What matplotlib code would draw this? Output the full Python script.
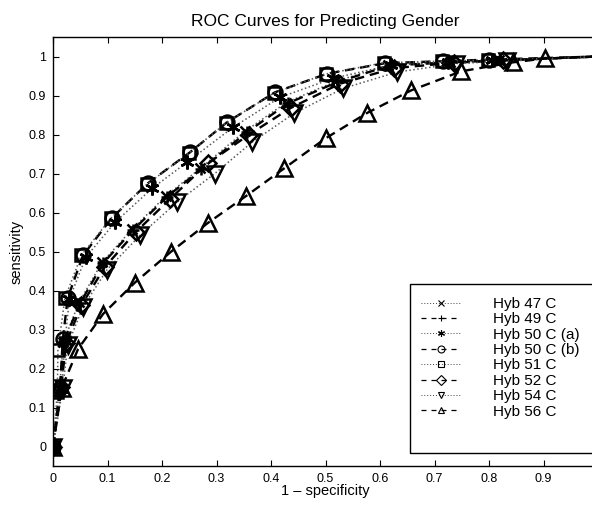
import matplotlib
matplotlib.use("Agg")
import matplotlib.pyplot as plt
from matplotlib.lines import Line2D
from matplotlib.patches import Rectangle

plt.rcParams['font.family'] = ['Liberation Sans', 'DejaVu Sans']

labels = ["Hyb 47 C", "Hyb 49 C", "Hyb 50 C (a)", "Hyb 50 C (b)",
          "Hyb 51 C", "Hyb 52 C", "Hyb 54 C", "Hyb 56 C"]
markers = ["x", "+", (6, 2, 0), "o", "s", "D", "v", "^"]
styles = ["dotted", "dashed", "dotted", "dashed", "dotted", "dashed", "dotted", "dashed"]

x47 = [0, 0.012, 0.019, 0.048, 0.09, 0.145, 0.207, 0.27, 0.352, 0.428, 0.518, 0.615, 0.728, 0.818]
y47 = [0, 0.15, 0.268, 0.37, 0.472, 0.557, 0.642, 0.713, 0.808, 0.882, 0.936, 0.978, 0.986, 0.99]
x49 = [0, 0.013, 0.02, 0.05, 0.092, 0.147, 0.209, 0.272, 0.356, 0.431, 0.521, 0.618, 0.73, 0.82]
y49 = [0, 0.153, 0.27, 0.368, 0.47, 0.555, 0.64, 0.711, 0.806, 0.88, 0.934, 0.977, 0.985, 0.99]
x50a = [0, 0.016, 0.022, 0.03, 0.06, 0.114, 0.182, 0.246, 0.33, 0.416, 0.514, 0.62, 0.725, 0.805]
y50a = [0, 0.148, 0.27, 0.378, 0.485, 0.575, 0.662, 0.729, 0.818, 0.895, 0.944, 0.978, 0.986, 0.99]
x50b = [0, 0.013, 0.018, 0.027, 0.055, 0.108, 0.174, 0.251, 0.319, 0.407, 0.503, 0.61, 0.716, 0.80]
y50b = [0, 0.15, 0.275, 0.381, 0.49, 0.586, 0.675, 0.754, 0.831, 0.908, 0.956, 0.983, 0.988, 0.992]
x51 = [0, 0.008, 0.009, 0.022, 0.052, 0.106, 0.172, 0.249, 0.318, 0.405, 0.50, 0.607, 0.714, 0.798]
y51 = [0, 0.14, 0.248, 0.381, 0.49, 0.585, 0.672, 0.752, 0.83, 0.906, 0.955, 0.984, 0.988, 0.991]
x52 = [0, 0.015, 0.024, 0.052, 0.095, 0.152, 0.215, 0.284, 0.36, 0.436, 0.526, 0.625, 0.735, 0.826]
y52 = [0, 0.152, 0.265, 0.362, 0.46, 0.55, 0.635, 0.726, 0.80, 0.868, 0.93, 0.97, 0.984, 0.99]
x54 = [0, 0.018, 0.027, 0.055, 0.099, 0.16, 0.228, 0.297, 0.365, 0.442, 0.532, 0.631, 0.74, 0.833]
y54 = [0, 0.15, 0.26, 0.358, 0.453, 0.542, 0.627, 0.70, 0.78, 0.854, 0.918, 0.96, 0.982, 0.988]
x56 = [0, 0.016, 0.046, 0.092, 0.15, 0.217, 0.284, 0.354, 0.424, 0.50, 0.576, 0.657, 0.749, 0.844, 0.903]
y56 = [0, 0.15, 0.25, 0.34, 0.42, 0.50, 0.573, 0.642, 0.713, 0.79, 0.855, 0.913, 0.962, 0.985, 0.995]

xs = [x47, x49, x50a, x50b, x51, x52, x54, x56]
ys = [y47, y49, y50a, y50b, y51, y52, y54, y56]

xticks = [0, 0.1, 0.2, 0.3, 0.4, 0.5, 0.6, 0.7, 0.8, 0.9]
xticklabels = ["0", "0.1", "0.2", "0.3", "0.4", "0.5", "0.6", "0.7", "0.8", "0.9"]
yticks = [0, 0.1, 0.2, 0.3, 0.4, 0.5, 0.6, 0.7, 0.8, 0.9, 1.0]
yticklabels = ["0", "0.1", "0.2", "0.3", "0.4", "0.5", "0.6", "0.7", "0.8", "0.9", "1"]

W, H = 592, 505
fig = plt.figure(figsize=(W / 100, H / 100), dpi=100)
ax = fig.add_axes([53 / W, 1 - 466 / H, 545 / W, 429 / H])

def ls_of(s):
    return (0, (1, 1.6)) if s == "dotted" else (0, (4, 2.5))

msizes = [7, 9, 10, 10, 9, 8, 11, 11]

for xv, yv, m, s, ms in zip(xs, ys, markers, styles, msizes):
    lx = list(xv) + [1.0]
    ly = list(yv) + [1.0]
    dotted = s == "dotted"
    ax.plot(lx, ly, linestyle=ls_of(s), color=("0.35" if dotted else "black"),
            lw=(1.1 if dotted else 1.7), zorder=2)
    ax.plot(xv, yv, linestyle="none", marker=m, markersize=ms,
            markerfacecolor="none", markeredgecolor="black", markeredgewidth=1.8, zorder=3)

ax.set_xlim(0, 1)
ax.set_ylim(-0.05, 1.05)
ax.set_xticks(xticks)
ax.set_xticklabels(xticklabels)
ax.set_yticks(yticks)
ax.set_yticklabels(yticklabels)
ax.tick_params(direction="in", length=4, width=0.8, labelsize=9, top=True, right=True, pad=5)
for sp in ax.spines.values():
    sp.set_linewidth(1.0)

ax.set_title("ROC Curves for Predicting Gender", fontsize=12.5, pad=8)
ax.set_xlabel("1 \u2013 specificity", fontsize=10.5, labelpad=-1)
ax.set_ylabel("sensitivity", fontsize=10.5, labelpad=4)

handles = []
for m, s, lab in zip(markers, styles, labels):
    dotted = s == "dotted"
    handles.append(Line2D([], [], color="black",
                          linestyle=((0, (1, 2.5)) if dotted else (0, (4, 4))),
                          lw=(0.6 if dotted else 0.9), marker=m,
                          markersize=5, markerfacecolor="none", markeredgewidth=0.8,
                          label=lab))
fig.add_artist(Rectangle((410 / W, 1 - 453 / H), 200 / W, 169 / H,
                         transform=fig.transFigure, fill=False, lw=1.0,
                         edgecolor="black", zorder=5))
leg = fig.legend(handles=handles, loc="upper left",
                 bbox_to_anchor=(421 / W, 1 - 297 / H), frameon=False,
                 fontsize=11, handlelength=2.6, handletextpad=2.1,
                 borderpad=0, labelspacing=0.09, borderaxespad=0)

fig.savefig("out.png", dpi=100)
